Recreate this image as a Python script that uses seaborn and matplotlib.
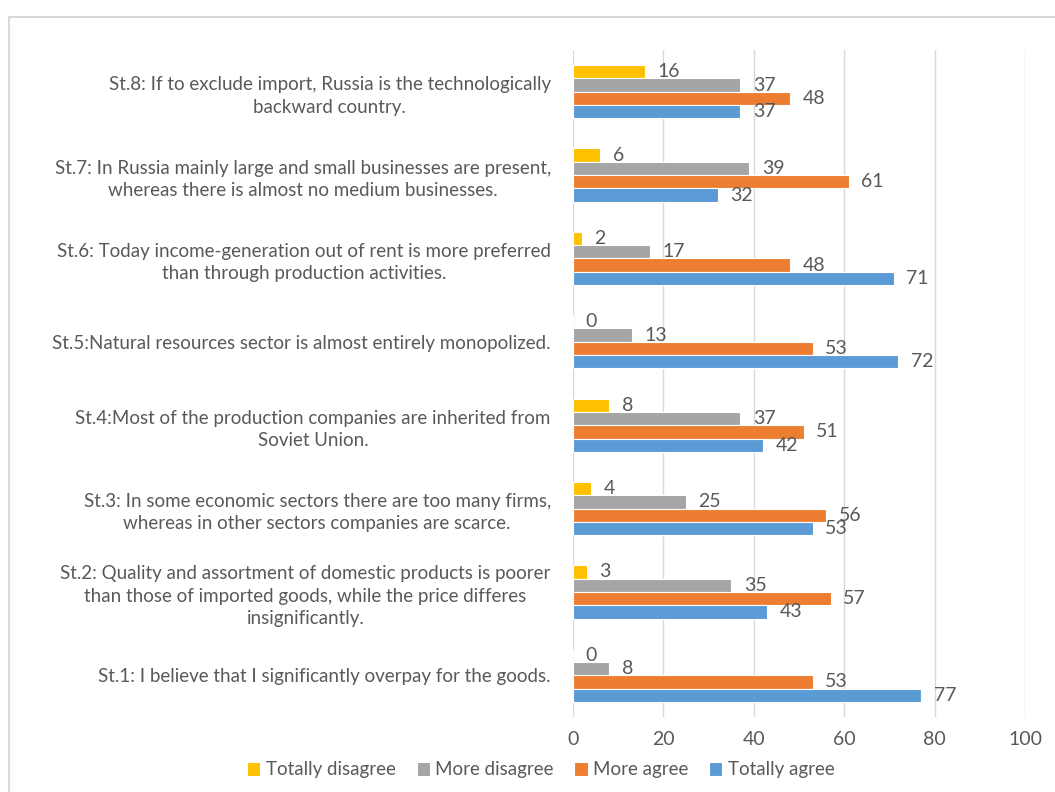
import matplotlib
matplotlib.use("Agg")
import matplotlib.pyplot as plt
import seaborn as sns
import pandas as pd
from matplotlib.patches import Rectangle

statements = [
    "St.8: If to exclude import, Russia is the technologically\nbackward country.",
    "St.7: In Russia mainly large and small businesses are present,\nwhereas there is almost no medium businesses.",
    "St.6: Today income-generation out of rent is more preferred\nthan through production activities.",
    "St.5:Natural resources sector is almost entirely monopolized.",
    "St.4:Most of the production companies are inherited from\nSoviet Union.",
    "St.3: In some economic sectors there are too many firms,\nwhereas in other sectors companies are scarce.",
    "St.2: Quality and assortment of domestic products is poorer\nthan those of imported goods, while the price differes\ninsignificantly.",
    "St.1: I believe that I significantly overpay for the goods.",
]
series = ["Totally disagree", "More disagree", "More agree", "Totally agree"]
totally_disagree = [16, 6, 2, 0, 8, 4, 3, 0]
more_disagree = [37, 39, 17, 13, 37, 25, 35, 8]
more_agree = [48, 61, 48, 53, 51, 56, 57, 53]
totally_agree = [37, 32, 71, 72, 42, 53, 43, 77]
x_ticks = [0, 20, 40, 60, 80, 100]

colors = ["#FFC000", "#A5A5A5", "#ED7D31", "#5B9BD5"]
text_color = "#595959"

rows = []
for vals, name in zip([totally_disagree, more_disagree, more_agree, totally_agree], series):
    for st, v in zip(statements, vals):
        rows.append({"statement": st, "series": name, "value": v})
df = pd.DataFrame(rows)

sns.set_theme(style="white")
plt.rcParams["font.family"] = ["Lato", "DejaVu Sans"]

fig = plt.figure(figsize=(10.55, 7.92), dpi=100)
ax = fig.add_axes([573 / 1055, 1 - 717 / 792, (1025 - 573) / 1055, (717 - 50) / 792])

sns.barplot(data=df, y="statement", x="value", hue="series", order=statements,
            hue_order=series, palette=colors, saturation=1, orient="h", width=0.64,
            edgecolor="white", linewidth=0.8, ax=ax, legend=True)

for cont in ax.containers:
    ax.bar_label(cont, padding=9, fontsize=14, color=text_color)

ax.set_xlim(0, 100)
ax.set_xticks(x_ticks)
ax.set_xlabel("")
ax.set_ylabel("")
ax.grid(axis="x", color="#d9d9d9", linewidth=1)
ax.set_axisbelow(True)
for s in ax.spines.values():
    s.set_visible(False)
ax.tick_params(axis="x", labelsize=14, labelcolor=text_color, length=0, pad=10)
ax.tick_params(axis="y", labelsize=13.5, labelcolor=text_color, length=0, pad=16)
for lab in ax.get_yticklabels():
    lab.set_multialignment("center")
    lab.set_linespacing(1.38)

handles, labels = ax.get_legend_handles_labels()
ax.get_legend().remove()
fig.legend(handles, labels, loc="center", bbox_to_anchor=(541 / 1055, 1 - 770 / 792),
           ncol=4, frameon=False, fontsize=13.5, labelcolor=text_color,
           handlelength=0.7, handleheight=0.7, handletextpad=0.3, columnspacing=1.1)

fig.add_artist(Rectangle((9 / 1055, -0.1), 1.2, 1 - 17 / 792 + 0.1, transform=fig.transFigure,
                         fill=False, edgecolor="#d9d9d9", linewidth=1.5))

fig.savefig("out.png", dpi=100, facecolor="white")
